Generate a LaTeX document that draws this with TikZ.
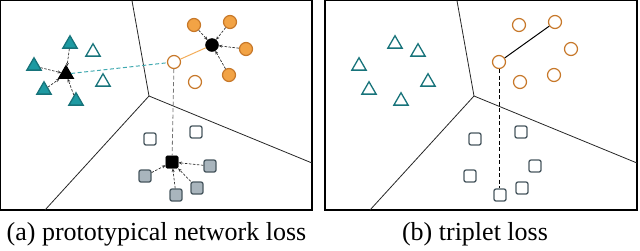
\documentclass[tikz,border=0pt]{standalone}
\usepackage{fontspec}
\setmainfont{Liberation Serif}
\usetikzlibrary{shapes.geometric,arrows.meta}
\definecolor{tealF}{HTML}{1E9AA2}
\definecolor{tealD}{HTML}{17737A}
\definecolor{orgF}{HTML}{F2A345}
\definecolor{orgD}{HTML}{C7782A}
\definecolor{sqF}{HTML}{A9B5BD}
\definecolor{sqD}{HTML}{48575F}
\tikzset{
  panel/.style={draw=black,line width=1.4pt},
  vor/.style={draw=black!85,line width=0.8pt},
  tri/.style={regular polygon,regular polygon sides=3,minimum size=16.5pt,inner sep=0pt,line width=1.3pt,draw=tealD},
  trif/.style={tri,fill=tealF},
  trih/.style={tri,fill=white},
  cir/.style={circle,minimum size=13pt,inner sep=0pt,line width=1.2pt,draw=orgD},
  cirf/.style={cir,fill=orgF},
  cirh/.style={cir,fill=white},
  sq/.style={rectangle,rounded corners=2pt,minimum size=12pt,inner sep=0pt,line width=1.3pt,draw=sqD},
  sqf/.style={sq,fill=sqF},
  sqh/.style={sq,fill=white},
  proto/.style={fill=black,draw=black},
  toproto/.style={draw=black!80,dashed,dash pattern=on 2.5pt off 1.5pt,line width=0.7pt,-{Stealth[length=3.5pt,width=3pt]}},
  captext/.style={anchor=base,font=\fontsize{26}{30}\selectfont,inner sep=0pt}
}
\begin{document}
\begin{tikzpicture}[x=1pt,y=-1pt]
\useasboundingbox (0,0) rectangle (640,250);
% ---------- panel (a) ----------
\draw[panel] (0.7,0.7) rectangle (312,210);
\coordinate (ja) at (149,96);
\coordinate (ta) at (132,0.7);
\coordinate (la) at (45,210);
\coordinate (ra) at (312,163);
\draw[vor] (ta) -- (ja) -- (la);
\draw[vor] (ja) -- (ra);
% triangles
\node[trif] (at1) at (70,44) {};
\node[trif] (at2) at (34,66) {};
\node[trif] (at3) at (44,90) {};
\node[trif] (at4) at (76,101) {};
\node[trih] (at5) at (93,52) {};
\node[trih] (at6) at (103,82) {};
\node[tri,proto] (apt) at (66,74) {};
% circles
\node[cirf] (ac1) at (194,25) {};
\node[cirf] (ac2) at (230,22) {};
\node[cirf] (ac3) at (246,49) {};
\node[cirf] (ac4) at (229,75) {};
\node[cirh] (ac5) at (174,62) {};
\node[cirh] (ac6) at (195,82) {};
\node[circle,minimum size=13pt,inner sep=0pt,proto] (apc) at (212,45) {};
% squares
\node[sqh] (as1) at (150,139) {};
\node[sqh] (as2) at (196,132) {};
\node[sqf] (as3) at (145,176) {};
\node[sqf] (as4) at (210,166) {};
\node[sqf] (as5) at (176,195) {};
\node[sqf] (as6) at (197,188) {};
\node[rectangle,rounded corners=1.5pt,minimum size=12.5pt,inner sep=0pt,proto] (aps) at (172,162) {};
% arrows to prototypes
\foreach \n in {at1,at2,at3,at4} \draw[toproto] (\n) -- (apt);
\foreach \n in {ac1,ac2,ac3,ac4} \draw[toproto] (\n) -- (apc);
\foreach \n in {as3,as4,as5,as6} \draw[toproto] (\n) -- (aps);
% query distances
\draw[tealF!85,dashed,dash pattern=on 4pt off 2.5pt,line width=1pt] (apt) -- (ac5);
\draw[orgF!90,line width=1pt] (ac5) -- (apc);
\draw[black!55,dashed,dash pattern=on 4pt off 2.5pt,line width=0.8pt] (ac5) -- (aps);
\node[captext] (capa) at (156.5,240) {(a) prototypical network loss};
% ---------- panel (b) ----------
\draw[panel] (325,0.7) rectangle (637,210);
\coordinate (jb) at (474,96);
\coordinate (tb) at (457,0.7);
\coordinate (lb) at (370,210);
\coordinate (rb) at (637,163);
\draw[vor] (tb) -- (jb) -- (lb);
\draw[vor] (jb) -- (rb);
\node[trih] (bt1) at (395,44) {};
\node[trih] (bt2) at (359,66) {};
\node[trih] (bt3) at (369,90) {};
\node[trih] (bt4) at (401,101) {};
\node[trih] (bt5) at (418,52) {};
\node[trih] (bt6) at (428,82) {};
\node[cirh] (bc1) at (519,25) {};
\node[cirh] (bc2) at (555,22) {};
\node[cirh] (bc3) at (571,49) {};
\node[cirh] (bc4) at (554,75) {};
\node[cirh] (bc5) at (499,62) {};
\node[cirh] (bc6) at (520,82) {};
\node[sqh] (bs1) at (475,139) {};
\node[sqh] (bs2) at (521,132) {};
\node[sqh] (bs3) at (470,176) {};
\node[sqh] (bs4) at (535,166) {};
\node[sqh] (bs5) at (500,195) {};
\node[sqh] (bs6) at (522,188) {};
\draw[black,line width=1pt] (bc5) -- (bc2);
\draw[black,dashed,dash pattern=on 4pt off 2.5pt,line width=1pt] (bc5) -- (bc5 |- bs5.north);
\node[captext] (capb) at (475,240) {(b) triplet loss};
\end{tikzpicture}
\end{document}
